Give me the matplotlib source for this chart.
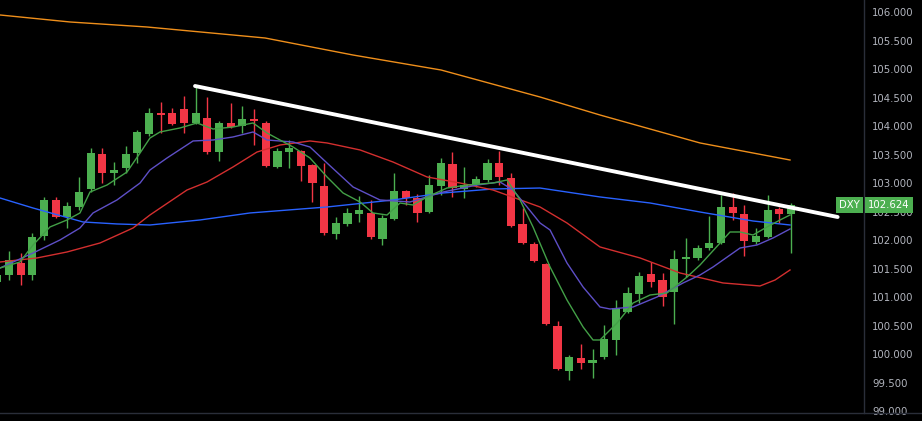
import numpy as np
import matplotlib
matplotlib.use("Agg")
import matplotlib.pyplot as plt

# 일봉 데이터 (DXY)
opens = [101.265, 101.388, 101.599, 101.388, 102.073, 102.705, 102.406, 102.582, 102.898, 103.512,
         103.179, 103.267, 103.530, 103.864, 104.232, 104.232, 104.302, 104.057, 104.144, 103.548,
         104.057, 104.004, 104.127, 104.057, 103.284, 103.548, 103.565, 103.319, 102.951, 102.108,
         102.284, 102.459, 102.477, 102.020, 102.371, 102.863, 102.740, 102.494, 102.951, 103.337,
         102.898, 102.968, 103.056, 103.354, 103.091, 102.284, 101.932, 101.581, 100.493, 99.703,
         99.931, 99.843, 99.948, 100.247, 100.739, 101.054, 101.406, 101.300, 101.089, 101.669,
         101.687, 101.862, 101.950, 102.582, 102.459, 101.968, 102.055, 102.547, 102.459]
closes = [101.388, 101.651, 101.388, 102.055, 102.705, 102.406, 102.599, 102.845, 103.530, 103.179,
          103.232, 103.512, 103.899, 104.232, 104.197, 104.039, 104.057, 104.232, 103.548, 104.057,
          103.986, 104.127, 104.092, 103.302, 103.565, 103.618, 103.302, 103.003, 102.126, 102.301,
          102.477, 102.529, 102.055, 102.389, 102.863, 102.740, 102.477, 102.968, 103.354, 102.915,
          102.968, 103.073, 103.354, 103.109, 102.248, 101.950, 101.634, 100.528, 99.738, 99.948,
          99.843, 99.896, 100.264, 100.809, 101.072, 101.370, 101.265, 101.002, 101.669, 101.704,
          101.862, 101.950, 102.582, 102.477, 101.985, 102.073, 102.529, 102.459, 102.624]
highs = [101.441, 101.810, 101.774, 102.126, 102.758, 102.758, 102.670, 103.109, 103.618, 103.618,
         103.372, 103.653, 103.934, 104.320, 104.425, 104.320, 104.531, 104.689, 104.513, 104.092,
         104.408, 104.355, 104.302, 104.092, 103.618, 103.758, 103.583, 103.336, 103.354, 102.406,
         102.564, 102.775, 102.705, 102.441, 103.179, 102.880, 102.810, 103.144, 103.442, 103.548,
         103.284, 103.126, 103.425, 103.565, 103.179, 102.564, 101.968, 101.599, 100.580, 99.984,
         100.177, 100.089, 100.510, 100.949, 101.177, 101.441, 101.616, 101.423, 101.827, 102.038,
         101.915, 102.424, 102.793, 102.828, 102.617, 102.213, 102.793, 102.582, 102.652]
lows = [101.212, 101.300, 101.213, 101.300, 102.003, 102.389, 102.213, 102.529, 102.845, 103.003,
        102.968, 103.179, 103.354, 103.828, 103.881, 104.022, 103.881, 104.039, 103.512, 103.389,
        103.969, 103.881, 103.670, 103.284, 103.267, 103.267, 103.038, 102.670, 102.090, 102.020,
        102.248, 102.319, 102.020, 101.915, 102.354, 102.617, 102.319, 102.477, 102.793, 102.758,
        102.740, 102.933, 103.021, 102.968, 102.231, 101.932, 101.616, 100.510, 99.720, 99.545,
        99.738, 99.580, 99.913, 99.984, 100.721, 100.897, 101.177, 100.844, 100.528, 101.353,
        101.651, 101.827, 101.932, 102.354, 101.722, 101.932, 102.038, 102.301, 101.774]

# 이동평균선 (봉 번호, 값)
ma_green_x = [-0.77, 0.94, 2.06, 3.51, 4.97, 6.08, 6.94, 8.40, 10.11, 11.23, 12.08, 12.94, 14.65, 16.11,
              17.48, 19.19, 20.91, 22.11, 23.22, 24.34, 25.79, 27.25, 28.62, 30.08, 31.19, 32.39, 33.50,
              34.62, 35.82, 37.53, 39.25, 41.47, 42.67, 43.79, 44.90, 46.36, 47.81, 49.19, 50.04, 50.64,
              52.10, 53.47, 54.93, 56.38, 58.10, 59.21, 60.93, 61.78, 62.64, 63.75, 64.95, 66.07, 66.92]
ma_green_y = [101.511, 101.616, 101.915, 102.231, 102.354, 102.477, 102.845, 102.968, 103.196, 103.530,
              103.793, 103.899, 103.969, 104.057, 103.951, 103.986, 104.057, 103.881, 103.758, 103.635,
              103.442, 103.109, 102.828, 102.670, 102.477, 102.441, 102.652, 102.617, 102.758, 102.915,
              102.968, 103.003, 103.056, 102.705, 102.231, 101.529, 100.949, 100.475, 100.247, 100.247,
              100.545, 100.896, 101.037, 101.072, 101.353, 101.564, 101.950, 102.143, 102.143, 102.090,
              102.231, 102.354, 102.442]
ma_purple_x = [-0.77, 2.06, 4.37, 6.08, 7.20, 9.25, 11.23, 12.08, 13.54, 15.77, 17.48, 19.19, 20.91,
               22.11, 24.34, 25.79, 27.25, 29.48, 31.79, 34.36, 37.19, 40.10, 42.07, 43.19, 44.39, 45.50,
               46.36, 47.81, 49.19, 50.64, 51.50, 53.47, 55.53, 57.76, 59.21, 60.33, 62.64, 64.10, 65.47,
               66.92]
ma_purple_y = [101.511, 101.774, 102.003, 102.213, 102.477, 102.705, 103.003, 103.232, 103.442, 103.741,
               103.758, 103.811, 103.899, 103.758, 103.723, 103.635, 103.354, 102.933, 102.705, 102.670,
               102.845, 102.968, 103.021, 102.880, 102.582, 102.301, 102.178, 101.599, 101.177, 100.826,
               100.791, 100.826, 101.002, 101.248, 101.388, 101.529, 101.862, 101.915, 102.038, 102.196]
ma_red_x = [-0.77, 2.40, 4.97, 7.80, 10.63, 12.08, 15.25, 16.97, 19.19, 21.25, 23.22, 25.79, 27.25, 30.08,
            32.90, 35.82, 38.65, 41.47, 45.50, 47.81, 50.64, 54.07, 57.50, 61.18, 64.35, 65.64, 66.92]
ma_red_y = [101.616, 101.687, 101.792, 101.950, 102.213, 102.442, 102.880, 103.021, 103.284, 103.547,
            103.670, 103.741, 103.706, 103.583, 103.372, 103.109, 103.003, 102.880, 102.582, 102.301,
            101.880, 101.687, 101.423, 101.248, 101.195, 101.300, 101.476]
ma_blue_x = [-0.77, 2.06, 6.34, 9.25, 12.08, 16.37, 20.65, 27.25, 32.90, 37.19, 41.47, 45.50, 50.64,
             54.93, 59.21, 63.75, 66.92]
ma_blue_y = [102.740, 102.564, 102.319, 102.284, 102.266, 102.354, 102.477, 102.582, 102.705, 102.828,
             102.898, 102.915, 102.758, 102.652, 102.494, 102.336, 102.266]
ma_orange_x = [-0.77, 5.23, 11.83, 21.94, 29.48, 37.02, 45.50, 50.64, 59.21, 66.92]
ma_orange_y = [105.953, 105.830, 105.742, 105.549, 105.250, 104.987, 104.513, 104.197, 103.706, 103.407]

# 추세선
trend_x = [15.94, 71.0]
trend_y = [104.706, 102.406]

last_price = 102.624
y_ticks = [99.0, 99.5, 100.0, 100.5, 101.0, 101.5, 102.0, 102.5, 103.0, 103.5, 104.0, 104.5, 105.0, 105.5, 106.0]

UP = "#4caf50"
DOWN = "#f23645"
AXIS_TEXT = "#b2b5be"
GRID = "#2a2e39"


def plot_chart(file_name):
    fig = plt.figure(figsize=(9.22, 4.21), dpi=100, facecolor="black")
    ax = fig.add_axes([0, 8 / 421, 864 / 922, 413 / 421], facecolor="black")

    idx = np.arange(-1, len(opens) - 1)
    o = np.array(opens)
    c = np.array(closes)
    colors = np.where(c >= o, UP, DOWN)

    # 캔들
    ax.vlines(idx, lows, highs, colors=colors, linewidth=1, zorder=2)
    ax.bar(idx, np.maximum(np.abs(c - o), 0.03), bottom=np.minimum(o, c), width=0.7,
           color=colors, linewidth=0, zorder=2)

    # 이동평균선
    ax.plot(ma_orange_x, ma_orange_y, color="#ef8f1b", linewidth=1, zorder=3)
    ax.plot(ma_blue_x, ma_blue_y, color="#2962ff", linewidth=1, zorder=3)
    ax.plot(ma_red_x, ma_red_y, color="#d32f2f", linewidth=1, zorder=3)
    ax.plot(ma_purple_x, ma_purple_y, color="#5e4fc7", linewidth=1, zorder=3)
    ax.plot(ma_green_x, ma_green_y, color="#43a047", linewidth=1, zorder=3)

    # 추세선
    ax.plot(trend_x, trend_y, color="white", linewidth=2.8, solid_capstyle="round", zorder=4)

    ax.set_xlim(-0.771, 73.26)
    ax.set_ylim(98.965, 106.216)

    ax.set_xticks([])
    ax.yaxis.tick_right()
    ax.set_yticks(y_ticks)
    ax.set_yticklabels(["%.3f" % t for t in y_ticks])
    ax.tick_params(axis="y", length=0, pad=6, colors=AXIS_TEXT, labelsize=7.3)

    for side in ["left", "top", "bottom"]:
        ax.spines[side].set_visible(False)
    ax.spines["right"].set_color(GRID)
    ax.spines["right"].set_linewidth(1)

    # 하단 구분선
    fig.add_artist(plt.Line2D([0, 1], [8 / 421, 8 / 421], color=GRID, linewidth=1))

    # 현재가 라벨 (102.500 눈금 위쪽을 가림)
    ax.annotate("%.3f" % last_price, xy=(1.0, last_price), xycoords=("axes fraction", "data"),
                xytext=(3, 0), textcoords="offset points", ha="left", va="center",
                color="white", fontsize=7.3, annotation_clip=False,
                bbox=dict(boxstyle="square,pad=0.3", facecolor=UP, edgecolor="none"), zorder=6)
    ax.annotate("DXY", xy=(1.0, last_price), xycoords=("axes fraction", "data"),
                xytext=(-3, 0), textcoords="offset points", ha="right", va="center",
                color="white", fontsize=7.3,
                bbox=dict(boxstyle="square,pad=0.3", facecolor=UP, edgecolor="none"), zorder=6)

    fig.savefig(file_name, dpi=100, facecolor="black")


if __name__ == "__main__":
    plot_chart("out.png")
